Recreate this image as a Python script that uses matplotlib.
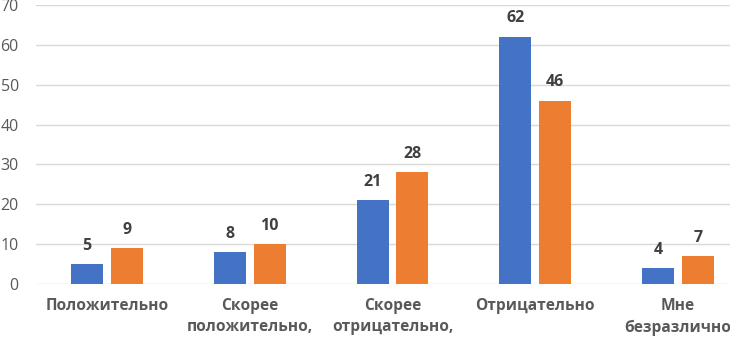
import numpy as np
import matplotlib.pyplot as plt

plt.rcParams['font.family'] = ['Open Sans', 'DejaVu Sans']

categories = ['Положительно', 'Скорее\nположительно,', 'Скорее\nотрицательно,',
              'Отрицательно', 'Мне\nбезразлично']
series_a = [5, 8, 21, 62, 4]
series_b = [9, 10, 28, 46, 7]

blue = '#4472C4'
orange = '#ED7D31'
text_col = '#595959'
label_col = '#404040'

fig = plt.figure(figsize=[7.3, 3.4], dpi=100)
ax = fig.add_axes([35.5 / 730, 56 / 340, 714 / 730, 279 / 340])

x = np.arange(len(categories))
w = 0.224
off = 0.14
bars_a = ax.bar(x - off, series_a, width=w, color=blue, zorder=3)
bars_b = ax.bar(x + off, series_b, width=w, color=orange, zorder=3)

for bars, vals in [(bars_a, series_a), (bars_b, series_b)]:
    for b, v in zip(bars, vals):
        ax.annotate(str(v), (b.get_x() + b.get_width() / 2, v),
                    xytext=(0, 7.5), textcoords='offset points',
                    ha='center', va='bottom', fontsize=11.5,
                    fontweight='bold', color=label_col)

ax.set_xlim(-0.5, 4.5)
ax.set_ylim(0, 70)
ax.set_yticks(range(0, 71, 10))
ax.yaxis.grid(True, color='#d9d9d9', linewidth=1, zorder=0)
ax.set_axisbelow(True)
for s in ax.spines.values():
    s.set_visible(False)
ax.tick_params(axis='y', length=0, pad=12, labelsize=11.5, labelcolor=text_col)
ax.tick_params(axis='x', length=0, pad=10, labelsize=11.2, labelcolor=text_col)
ax.set_xticks(x)
ax.set_xticklabels(categories, fontweight='bold', va='top', linespacing=1.45)

plt.savefig('out.png', dpi=100)
